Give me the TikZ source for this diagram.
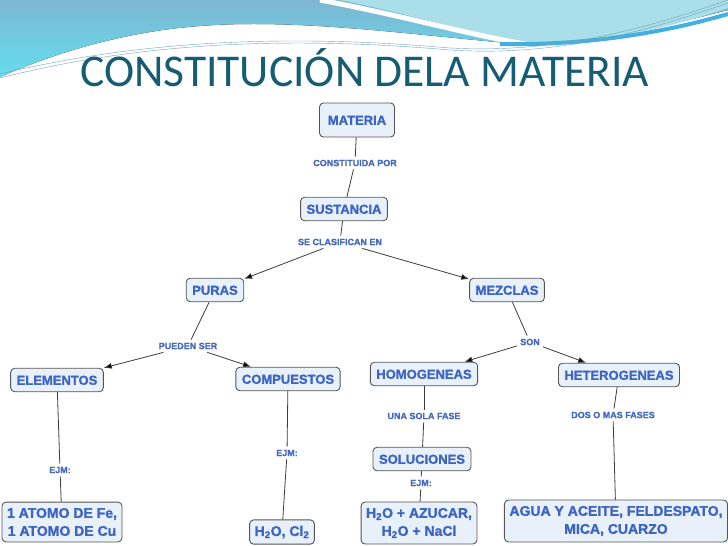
\documentclass[tikz,border=0pt]{standalone}
\usepackage{fontspec}
\setmainfont{Liberation Sans}[BoldFeatures={FakeBold=1.6}]
\newfontfamily\titlefont{Carlito}
\usetikzlibrary{arrows.meta}

\definecolor{nodeblue}{RGB}{62,100,196}
\definecolor{linkblue}{RGB}{70,105,190}
\definecolor{boxfill}{RGB}{232,241,250}
\definecolor{boxline}{RGB}{85,85,85}
\definecolor{linegray}{RGB}{60,60,60}
\definecolor{titleteal}{RGB}{22,92,116}
\definecolor{wavetop}{RGB}{125,182,210}
\definecolor{wavebot}{RGB}{100,222,238}
\definecolor{wavelight}{RGB}{170,222,232}
\definecolor{waveband}{RGB}{70,175,225}

\tikzset{
  concept/.style={draw=boxline, fill=boxfill, rounded corners=4pt, line width=0.9pt, text=nodeblue,
    font=\bfseries\fontsize{13}{15}\selectfont, inner xsep=6pt, inner ysep=7pt, text height=9.5pt, text depth=0pt},
  sample/.style={draw=boxline, fill=boxfill, rounded corners=4pt, line width=0.9pt, text=nodeblue,
    font=\bfseries\fontsize{14}{18}\selectfont, align=center, inner xsep=5pt, inner ysep=6pt},
  link/.style={text=linkblue, font=\bfseries\fontsize{9}{10}\selectfont, inner sep=3pt},
  conn/.style={draw=linegray, line width=0.8pt},
  arr/.style={conn, -{Latex[length=8pt,width=6pt]}}
}

\begin{document}
\begin{tikzpicture}[x=1pt, y=-1pt]
  \useasboundingbox (0,0) rectangle (728,546);
  % waves at the top
  \fill[top color=wavetop, bottom color=wavebot] (0,0) -- (728,0) -- (728,10)
    .. controls (650,30) and (580,48) .. (520,44) .. controls (420,36) and (300,18) .. (200,26)
    .. controls (120,32) and (50,55) .. (0,77) -- cycle;
  \fill[wavelight] (340,0) .. controls (410,14) and (470,33) .. (525,43)
    .. controls (600,45) and (680,25) .. (728,8) -- (728,0) -- cycle;
  \draw[white, line width=5pt] (320,0) .. controls (400,15) and (470,35) .. (525,44);
  \draw[waveband, line width=4pt] (500,44) .. controls (600,46) and (680,28) .. (728,14);
  \draw[gray!60!cyan, line width=0.4pt] (0,78) .. controls (150,40) and (300,37) .. (450,50)
    .. controls (560,57) and (650,30) .. (728,3);
  \draw[gray!60!cyan, line width=0.4pt] (0,74) .. controls (150,38) and (300,35) .. (450,48)
    .. controls (560,54) and (650,27) .. (728,0);

  \node (title) [anchor=base west, inner sep=0, text=titleteal, font=\titlefont\fontsize{45.5}{50}\selectfont] at (80,86) {CONSTITUCIÓN DELA MATERIA};

  % concepts
  \node (materia) [concept, minimum width=75pt, minimum height=34pt] at (357,120) {MATERIA};
  \node (sustancia) [concept] at (344,209) {SUSTANCIA};
  \node (puras) [concept] at (215,290) {PURAS};
  \node (mezclas) [concept] at (507,290) {MEZCLAS};
  \node (elementos) [concept] at (57,380) {ELEMENTOS};
  \node (compuestos) [concept] at (288,379) {COMPUESTOS};
  \node (homogeneas) [concept] at (424,374) {HOMOGENEAS};
  \node (heterogeneas) [concept] at (619,375) {HETEROGENEAS};
  \node (soluciones) [concept] at (422,459) {SOLUCIONES};
  \node (atomos) [sample] at (62,522) {1 ATOMO DE Fe,\\1 ATOMO DE Cu};
  \node (hcl) [sample] at (282,532) {H\textsubscript{2}O, Cl\textsubscript{2}};
  \node (azucar) [sample] at (419,523) {H\textsubscript{2}O + AZUCAR,\\H\textsubscript{2}O + NaCl};
  \node (agua) [sample] at (616,521) {AGUA Y ACEITE, FELDESPATO,\\MICA, CUARZO};

  % linking phrases
  \node (lcons) [link] at (355,163) {CONSTITUIDA POR};
  \node (lclas) [link] at (340,242) {SE CLASIFICAN EN};
  \node (lpueden) [link] at (188,346) {PUEDEN SER};
  \node (lson) [link] at (530,342) {SON};
  \node (lejma) [link] at (60,470) {EJM:};
  \node (lejmb) [link] at (287,453) {EJM:};
  \node (lfase) [link] at (424,416) {UNA SOLA FASE};
  \node (lejmc) [link] at (421,483) {EJM:};
  \node (lfases) [link] at (613,415) {DOS O MAS FASES};

  \path [conn]
  (materia) edge (lcons) (lcons) edge (sustancia)
  (sustancia) edge (lclas)
  (puras) edge (lpueden) (mezclas) edge (lson)
  (elementos) edge (lejma) (lejma) edge (atomos)
  (compuestos) edge (lejmb) (lejmb) edge (hcl)
  (homogeneas) edge (lfase) (lfase) edge (soluciones)
  (soluciones) edge (lejmc) (lejmc) edge (azucar)
  (heterogeneas) edge (lfases) (lfases) edge (agua);
  \path [arr]
  (lclas) edge (puras) (lclas) edge (mezclas)
  (lpueden) edge (elementos) (lpueden) edge (compuestos)
  (lson) edge (homogeneas) (lson) edge (heterogeneas);
\end{tikzpicture}
\end{document}
